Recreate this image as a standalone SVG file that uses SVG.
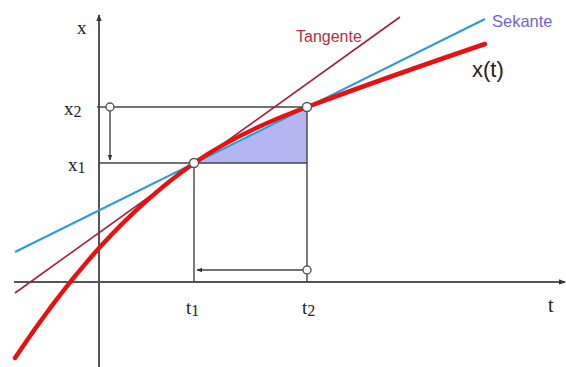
<svg xmlns="http://www.w3.org/2000/svg" width="566" height="367" viewBox="0 0 566 367">
<style>
.axis{stroke:#555;stroke-width:2;fill:none}
.guide{stroke:#444;stroke-width:1.4;fill:none}
.pt{fill:#fff;stroke:#555;stroke-width:1.4}
.serif{font-family:"Liberation Serif","Times New Roman",serif;fill:#222}
.sans{font-family:"Liberation Sans",Arial,sans-serif}
</style>
<defs>
<marker id="ah" viewBox="0 0 10 10" refX="9" refY="5" markerWidth="7" markerHeight="7" orient="auto" markerUnits="userSpaceOnUse">
<path d="M0,1 L10,5 L0,9 Z" fill="#333"/>
</marker>
<marker id="ahs" viewBox="0 0 10 10" refX="9" refY="5" markerWidth="6" markerHeight="6" orient="auto" markerUnits="userSpaceOnUse">
<path d="M0,1 L10,5 L0,9 Z" fill="#333"/>
</marker>
</defs>
<rect width="566" height="367" fill="#fff"/>
<g id="area">
<path d="M194,163 L307,107 L307,163 Z" fill="#b4b6f2"/>
</g>
<g id="axes">
<line class="axis" x1="99" y1="367" x2="99" y2="15" marker-end="url(#ah)"/>
<line class="axis" x1="14" y1="282" x2="565" y2="282" marker-end="url(#ah)"/>
</g>
<g id="connectors">
<line class="guide" x1="97" y1="107" x2="307" y2="107"/>
<line class="guide" x1="99" y1="163" x2="307" y2="163"/>
<line class="guide" x1="194" y1="163" x2="194" y2="282"/>
<line class="guide" x1="307" y1="107" x2="307" y2="282"/>
<line class="guide" x1="110" y1="111" x2="110" y2="160" marker-end="url(#ahs)"/>
<line class="guide" x1="303" y1="270" x2="197" y2="270" marker-end="url(#ahs)"/>
</g>
<g id="tangente">
<line x1="15" y1="293" x2="400" y2="17" stroke="#a3203a" stroke-width="1.6"/>
</g>
<g id="sekante">
<line x1="15" y1="252" x2="485" y2="19" stroke="#2a9ad8" stroke-width="2"/>
</g>
<g id="curve">
<path d="M15,358 C43,316 72,278 100,247 C131,213 163,185 194,163 C232,137 269,121 307,107 C366,85 426,64 485,44" fill="none" stroke="#e81010" stroke-width="4.5" stroke-linecap="round"/>
</g>
<g id="points">
<circle class="pt" cx="110" cy="107" r="4"/>
<circle class="pt" cx="194" cy="163" r="4.5"/>
<circle class="pt" cx="307" cy="107" r="4.5"/>
<circle class="pt" cx="307" cy="270" r="4"/>
</g>
<g id="labels">
<text class="serif" x="77" y="34" font-size="19">x</text>
<text class="serif" x="64" y="115" font-size="19">x<tspan font-size="16" dy="2">2</tspan></text>
<text class="serif" x="68" y="171" font-size="19">x<tspan font-size="16" dy="2">1</tspan></text>
<text class="serif" x="186" y="314" font-size="19">t<tspan font-size="16" dy="2">1</tspan></text>
<text class="serif" x="302" y="314" font-size="19">t<tspan font-size="16" dy="2">2</tspan></text>
<text class="serif" x="548" y="312" font-size="20">t</text>
<text class="sans" x="296" y="42" font-size="16" fill="#b03040">Tangente</text>
<text class="sans" x="492" y="27" font-size="16.5" fill="#7262d4">Sekante</text>
<text class="sans" x="472" y="77" font-size="22" fill="#222">x(t)</text>
</g>
</svg>
